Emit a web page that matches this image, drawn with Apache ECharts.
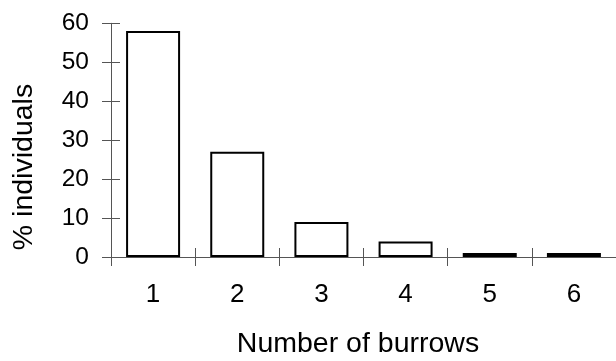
<!DOCTYPE html>
<html>
<head>
<meta charset="utf-8">
<script src="https://cdn.jsdelivr.net/npm/echarts@6/dist/echarts.min.js"></script>
<style>html,body{margin:0;padding:0;background:#fff}#c{width:616px;height:361px}</style>
</head>
<body>
<div id="c"></div>
<script>
const categories = ['1', '2', '3', '4', '5', '6'];
const percentIndividuals = [58, 27, 9, 4, 1, 1];
const yTicks = [0, 10, 20, 30, 40, 50, 60];
const xAxisTitle = 'Number of burrows';
const yAxisTitle = '% individuals';

const font = 'Liberation Sans, Arial, sans-serif';
const axisColor = '#555';
const chart = echarts.init(document.getElementById('c'), null, {renderer: 'canvas'});
const yMin = yTicks[0], yMax = yTicks[yTicks.length - 1], yInt = yTicks[1] - yTicks[0];

chart.setOption({
  animation: false,
  backgroundColor: '#fff',
  grid: {left: 111, top: 23.3, width: 512.6, height: 233.7, containLabel: false},
  xAxis: [
    {type: 'category', data: categories, position: 'bottom', boundaryGap: true,
     axisLine: {show: true, lineStyle: {color: axisColor, width: 1}},
     axisTick: {show: true, length: 9, lineStyle: {color: axisColor}},
     axisLabel: {color: '#000', fontFamily: font, fontSize: 26, margin: 25},
     splitLine: {show: false}},
    {type: 'category', data: categories, position: 'bottom', boundaryGap: true,
     axisLine: {show: false},
     axisTick: {show: true, inside: true, length: 9, lineStyle: {color: axisColor}},
     axisLabel: {show: false}, splitLine: {show: false}}
  ],
  yAxis: [
    {type: 'value', min: yMin, max: yMax, interval: yInt, position: 'left',
     axisLine: {show: true, lineStyle: {color: axisColor, width: 1}},
     axisTick: {show: true, length: 9, lineStyle: {color: axisColor}},
     axisLabel: {color: '#000', fontFamily: font, fontSize: 24.5, margin: 22},
     splitLine: {show: false}},
    {type: 'value', min: yMin, max: yMax, interval: yInt, position: 'left',
     axisLine: {show: false},
     axisTick: {show: true, inside: true, length: 9, lineStyle: {color: axisColor}},
     axisLabel: {show: false}, splitLine: {show: false}}
  ],
  series: [{
    type: 'bar', data: percentIndividuals, xAxisIndex: 0, yAxisIndex: 0,
    barWidth: 54,
    itemStyle: {color: '#fff', borderColor: '#000', borderWidth: 2},
    z: 3
  }],
  graphic: [
    {type: 'text', z: 10,
     style: {text: xAxisTitle, x: 0, y: 0, font: '28.5px ' + font, fill: '#000', textAlign: 'center', textVerticalAlign: 'middle'},
     position: [358, 344]},
    {type: 'text', z: 10, rotation: Math.PI / 2,
     style: {text: yAxisTitle, x: 0, y: 0, font: '28.5px ' + font, fill: '#000', textAlign: 'center', textVerticalAlign: 'middle'},
     position: [24, 167]}
  ]
});
</script>
</body>
</html>
